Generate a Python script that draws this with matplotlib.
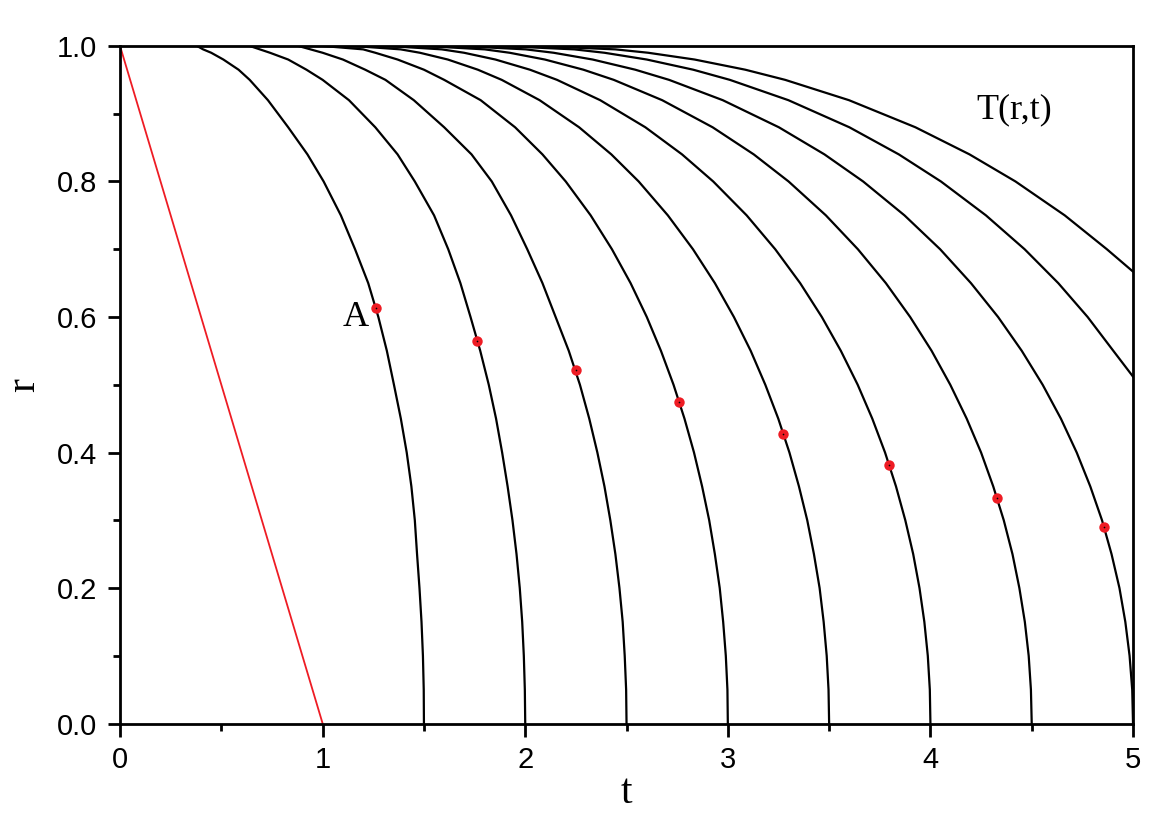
import matplotlib
matplotlib.use('Agg')
import matplotlib.pyplot as plt
import matplotlib.ticker as plticker

r_levels = [1.0, 0.995, 0.99, 0.98, 0.965, 0.95, 0.92, 0.88, 0.84, 0.80, 0.75, 0.70, 0.65,
            0.60, 0.55, 0.50, 0.45, 0.40, 0.35, 0.30, 0.25, 0.20, 0.15, 0.10, 0.05, 0.0]

# t-Werte der Isothermen
t_c1 = [0.38, 0.41, 0.45, 0.51, 0.585, 0.64, 0.73, 0.83, 0.925, 1.005, 1.09, 1.16, 1.225,
        1.275, 1.317, 1.352, 1.386, 1.415, 1.438, 1.455, 1.466, 1.478, 1.488, 1.495, 1.499, 1.5]
t_c2 = [0.64, 0.69, 0.74, 0.83, 0.92, 1.00, 1.13, 1.26, 1.37, 1.455, 1.55, 1.62, 1.68,
        1.73, 1.778, 1.82, 1.856, 1.886, 1.913, 1.937, 1.957, 1.973, 1.985, 1.993, 1.998, 2.0]
t_c3 = [0.88, 0.94, 1.00, 1.10, 1.21, 1.31, 1.45, 1.60, 1.735, 1.835, 1.93, 2.01, 2.085,
        2.15, 2.215, 2.27, 2.316, 2.356, 2.391, 2.42, 2.445, 2.465, 2.481, 2.491, 2.498, 2.5]
t_c4 = [1.00, 1.20, 1.26, 1.37, 1.50, 1.60, 1.78, 1.95, 2.085, 2.20, 2.323, 2.428, 2.52,
        2.60, 2.67, 2.732, 2.786, 2.833, 2.873, 2.908, 2.936, 2.96, 2.977, 2.99, 2.998, 3.0]
t_c5 = [1.15, 1.385, 1.48, 1.618, 1.766, 1.884, 2.071, 2.266, 2.425, 2.56, 2.704, 2.828, 2.936,
        3.03, 3.113, 3.185, 3.249, 3.304, 3.351, 3.392, 3.425, 3.453, 3.473, 3.488, 3.497, 3.5]
t_c6 = [1.32, 1.588, 1.698, 1.853, 2.023, 2.157, 2.37, 2.593, 2.774, 2.928, 3.093, 3.234, 3.357,
        3.464, 3.558, 3.641, 3.713, 3.776, 3.83, 3.876, 3.915, 3.946, 3.97, 3.987, 3.997, 4.0]
t_c7 = [1.50, 1.80, 1.923, 2.097, 2.287, 2.437, 2.676, 2.925, 3.128, 3.30, 3.484, 3.642, 3.78,
        3.90, 4.006, 4.098, 4.179, 4.25, 4.31, 4.362, 4.405, 4.439, 4.466, 4.485, 4.496, 4.5]
t_c8 = [1.67, 2.003, 2.14, 2.333, 2.543, 2.71, 2.975, 3.252, 3.477, 3.668, 3.872, 4.048, 4.20,
        4.334, 4.451, 4.554, 4.644, 4.722, 4.789, 4.847, 4.894, 4.933, 4.962, 4.983, 4.996, 5.0]

# die beiden obersten Kurven enden am rechten Rand
r_c9 = [1.0, 0.995, 0.99, 0.98, 0.965, 0.95, 0.92, 0.88, 0.84, 0.80, 0.75, 0.70, 0.65, 0.60, 0.55, 0.512]
t_c9 = [1.88, 2.242, 2.391, 2.60, 2.829, 3.01, 3.299, 3.60, 3.844, 4.052, 4.274, 4.465, 4.631, 4.776, 4.903, 5.0]
r_c10 = [1.0, 0.995, 0.99, 0.98, 0.965, 0.95, 0.92, 0.88, 0.84, 0.80, 0.75, 0.70, 0.667]
t_c10 = [2.05, 2.445, 2.607, 2.836, 3.086, 3.283, 3.598, 3.926, 4.193, 4.42, 4.663, 4.871, 5.0]

# rote Gerade
red_t = [0.0, 1.0]
red_r = [1.0, 0.0]

# rote Punkte
dot_t = [1.264, 1.764, 2.249, 2.758, 3.272, 3.796, 4.329, 4.857]
dot_r = [0.613, 0.565, 0.522, 0.474, 0.428, 0.381, 0.333, 0.290]

serif = 'Liberation Serif'
sans = 'Liberation Sans'
red = '#ee1c24'

fig = plt.figure(figsize=(11.7, 8.27), dpi=100)
ax = fig.add_axes([0.1026, 0.1251, 0.8658, 0.8193])

curves = [(t_c1, r_levels), (t_c2, r_levels), (t_c3, r_levels), (t_c4, r_levels),
          (t_c5, r_levels), (t_c6, r_levels), (t_c7, r_levels), (t_c8, r_levels),
          (t_c9, r_c9), (t_c10, r_c10)]
for t, r in curves:
    ax.plot(t, r, color='k', linewidth=1.6, solid_joinstyle='round')

ax.plot(red_t, red_r, color=red, linewidth=1.3)
ax.plot(dot_t, dot_r, 'o', color=red, markersize=7.5, markeredgewidth=0, zorder=5)
ax.plot(dot_t, dot_r, 'o', color='k', markersize=1.2, markeredgewidth=0, zorder=6)

ax.text(1.165, 0.587, 'A', family=serif, fontsize=26, ha='center', va='baseline')
ax.text(4.415, 0.893, 'T(r,t)', family=serif, fontsize=26, ha='center', va='baseline')

ax.set_xlim(0, 5)
ax.set_ylim(0, 1)
ax.xaxis.set_major_locator(plticker.MultipleLocator(1))
ax.xaxis.set_minor_locator(plticker.MultipleLocator(0.5))
ax.yaxis.set_major_locator(plticker.MultipleLocator(0.2))
ax.yaxis.set_minor_locator(plticker.MultipleLocator(0.1))
ax.xaxis.set_major_formatter(plticker.FormatStrFormatter('%d'))
ax.yaxis.set_major_formatter(plticker.FormatStrFormatter('%.1f'))

ax.tick_params(which='both', direction='out', width=2, top=False, right=False)
ax.tick_params(which='major', length=9, labelsize=21)
ax.tick_params(axis='x', which='major', pad=7)
ax.tick_params(axis='y', which='major', pad=7.5)
ax.tick_params(which='minor', length=5)
for lab in ax.get_xticklabels() + ax.get_yticklabels():
    lab.set_family(sans)
for s in ax.spines.values():
    s.set_linewidth(2)

ax.set_xlabel('t', family=serif, fontsize=30, labelpad=0)
ax.set_ylabel('r', family=serif, fontsize=30, labelpad=10)

fig.savefig('out.png', dpi=100)
